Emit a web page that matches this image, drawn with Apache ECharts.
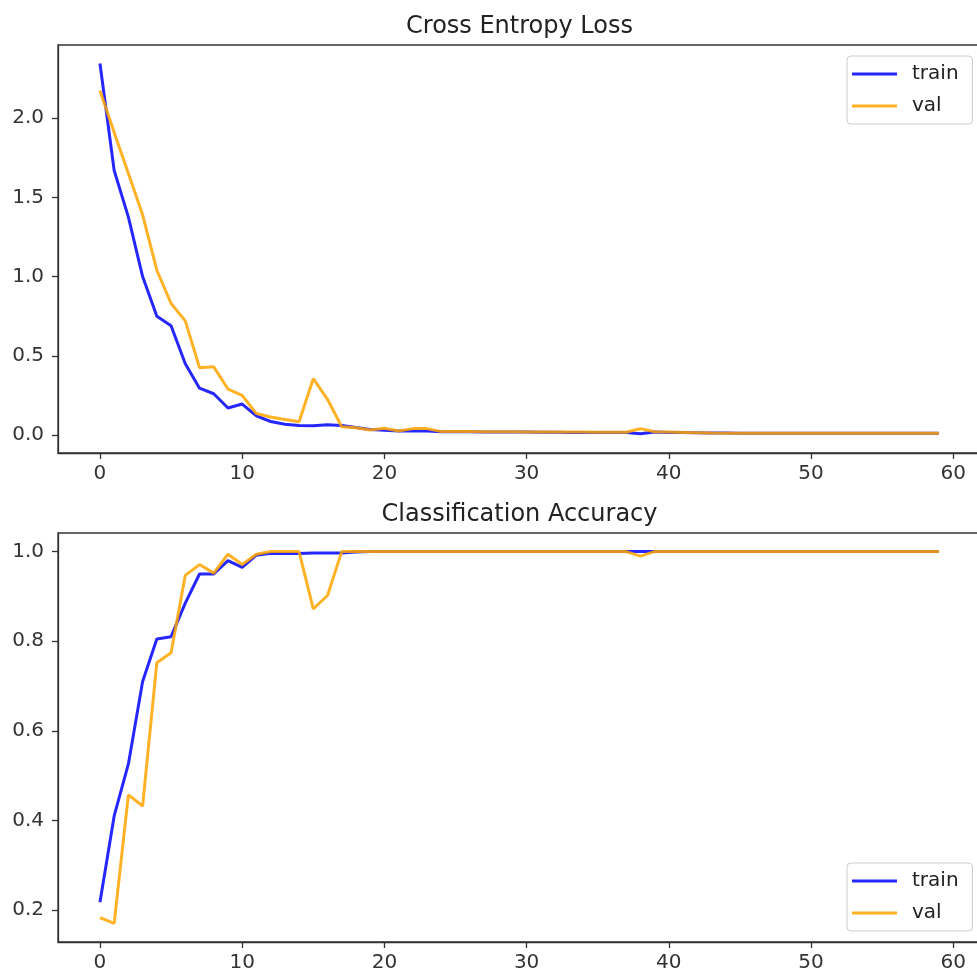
<!DOCTYPE html>
<html><head><meta charset="utf-8">
<script src="https://cdn.jsdelivr.net/npm/echarts@6/dist/echarts.min.js"></script>
<style>html,body{margin:0;padding:0;background:#fff}#c{width:977px;height:979px}</style>
</head><body><div id="c"></div>
<script>
const epochs = [0,1,2,3,4,5,6,7,8,9,10,11,12,13,14,15,16,17,18,19,20,21,22,23,24,25,26,27,28,29,30,31,32,33,34,35,36,37,38,39,40,41,42,43,44,45,46,47,48,49,50,51,52,53,54,55,56,57,58,59];
const lossTrain = [2.345,1.67,1.375,1.0,0.75,0.69,0.45,0.295,0.26,0.17,0.195,0.12,0.085,0.068,0.06,0.058,0.065,0.06,0.047,0.035,0.03,0.025,0.025,0.025,0.02,0.02,0.02,0.019,0.019,0.018,0.018,0.017,0.017,0.016,0.016,0.015,0.015,0.015,0.008,0.018,0.016,0.015,0.014,0.013,0.012,0.011,0.011,0.01,0.01,0.01,0.01,0.01,0.01,0.01,0.01,0.01,0.01,0.01,0.01,0.01];
const lossVal = [2.175,1.91,1.65,1.39,1.04,0.83,0.72,0.425,0.43,0.29,0.25,0.135,0.113,0.098,0.083,0.355,0.225,0.052,0.045,0.031,0.042,0.025,0.04,0.04,0.021,0.021,0.021,0.02,0.02,0.02,0.019,0.019,0.018,0.018,0.018,0.017,0.017,0.017,0.04,0.02,0.018,0.016,0.014,0.012,0.011,0.01,0.01,0.01,0.01,0.01,0.01,0.01,0.01,0.01,0.01,0.01,0.01,0.01,0.01,0.01];
const accTrain = [0.217,0.41,0.526,0.71,0.805,0.81,0.885,0.95,0.95,0.98,0.965,0.992,0.996,0.996,0.996,0.997,0.997,0.997,0.999,1.0,1.0,1.0,1.0,1.0,1.0,1.0,1.0,1.0,1.0,1.0,1.0,1.0,1.0,1.0,1.0,1.0,1.0,1.0,1.0,1.0,1.0,1.0,1.0,1.0,1.0,1.0,1.0,1.0,1.0,1.0,1.0,1.0,1.0,1.0,1.0,1.0,1.0,1.0,1.0,1.0];
const accVal = [0.183,0.17,0.457,0.432,0.752,0.774,0.947,0.971,0.952,0.994,0.971,0.994,1.0,1.0,1.0,0.872,0.902,1.0,1.0,1.0,1.0,1.0,1.0,1.0,1.0,1.0,1.0,1.0,1.0,1.0,1.0,1.0,1.0,1.0,1.0,1.0,1.0,1.0,0.99,1.0,1.0,1.0,1.0,1.0,1.0,1.0,1.0,1.0,1.0,1.0,1.0,1.0,1.0,1.0,1.0,1.0,1.0,1.0,1.0,1.0];
const xTicks = [0,10,20,30,40,50,60];
const lossTicks = [0,0.5,1.0,1.5,2.0];
const accTicks = [0.2,0.4,0.6,0.8,1.0];
const titles = ['Cross Entropy Loss','Classification Accuracy'];
const seriesNames = ['train','val'];

const FONT = 'DejaVu Sans';
const AX = '#333';
const pairs = (ys) => epochs.map((e, i) => [e, ys[i]]);

function xAx(g) {
  return {
    gridIndex: g, type: 'value', min: -2.95, max: 61.95,
    splitLine: {show: false},
    axisLine: {onZero: false, lineStyle: {color: AX, width: 1.3}},
    axisTick: {customValues: xTicks, length: 6, lineStyle: {color: AX, width: 1.3}},
    axisLabel: {customValues: xTicks, margin: 11, fontSize: 20, fontFamily: FONT, color: '#333'}
  };
}
function yAx(g, mn, mx, ticks) {
  return {
    gridIndex: g, type: 'value', min: mn, max: mx,
    splitLine: {show: false},
    axisLine: {onZero: false, lineStyle: {color: AX, width: 1.3}},
    axisTick: {customValues: ticks, length: 6, lineStyle: {color: AX, width: 1.3}},
    axisLabel: {customValues: ticks, margin: 14, fontSize: 20, fontFamily: FONT, color: '#333',
      formatter: (v) => Number(v).toFixed(1)}
  };
}
function leg(top) {
  return {
    data: seriesNames.map(n => ({name: n, icon: 'rect'})), orient: 'vertical', left: 847, top: top,
    itemWidth: 45, itemHeight: 3, itemGap: 12,
    padding: [8, 14, 8, 5],
    backgroundColor: '#fff', borderColor: '#ccc', borderWidth: 1, borderRadius: 4,
    textStyle: {fontFamily: FONT, fontSize: 20, lineHeight: 20, color: '#222', padding: [0, 0, 0, 10]}
  };
}
function ser(name, g, ys, color) {
  return {
    name: name, type: 'line', xAxisIndex: g, yAxisIndex: g, data: pairs(ys),
    symbol: 'none', showSymbol: false, smooth: false,
    lineStyle: {color: color, width: 3, opacity: 0.85},
    itemStyle: {color: color, opacity: 0.85}
  };
}

const chart = echarts.init(document.getElementById('c'), null, {renderer: 'canvas'});
chart.setOption({
  animation: false,
  backgroundColor: '#fff',
  title: [
    {text: titles[0], left: 519.5, top: 15, textAlign: 'center', padding: 0,
     textStyle: {fontFamily: FONT, fontSize: 24, fontWeight: 'normal', color: '#222'}},
    {text: titles[1], left: 519.5, top: 503, textAlign: 'center', padding: 0,
     textStyle: {fontFamily: FONT, fontSize: 24, fontWeight: 'normal', color: '#222'}}
  ],
  grid: [
    {left: 58, top: 45, width: 923, height: 408, show: true, borderColor: AX, borderWidth: 1.3, backgroundColor: '#fff', outerBoundsMode: 'none', containLabel: false},
    {left: 58, top: 533, width: 923, height: 409, show: true, borderColor: AX, borderWidth: 1.3, backgroundColor: '#fff', outerBoundsMode: 'none', containLabel: false}
  ],
  xAxis: [xAx(0), xAx(1)],
  yAxis: [yAx(0, -0.114, 2.462, lossTicks), yAx(1, 0.1285, 1.0415, accTicks)],
  legend: [leg(56), leg(863)],
  series: [
    ser(seriesNames[0], 0, lossTrain, '#0000ff'),
    ser(seriesNames[1], 0, lossVal, '#ffa500'),
    ser(seriesNames[0], 1, accTrain, '#0000ff'),
    ser(seriesNames[1], 1, accVal, '#ffa500')
  ]
});
</script>
</body></html>
